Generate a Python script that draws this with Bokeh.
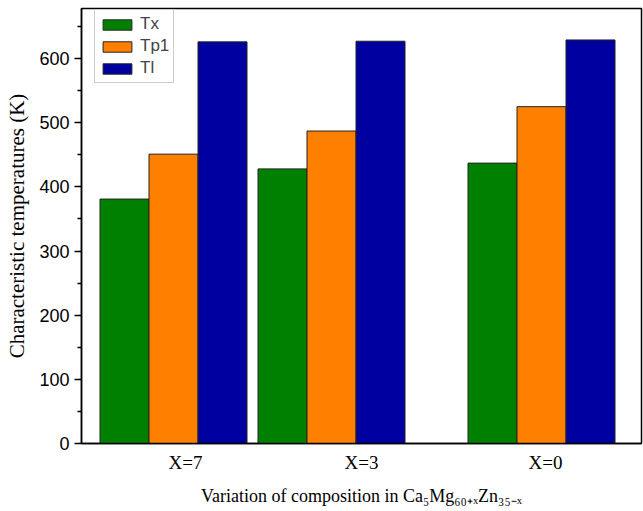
from bokeh.plotting import figure
from bokeh.models import Range1d, Legend, LegendItem, FixedTicker, ColumnDataSource
from bokeh.embed import file_html
from bokeh.resources import INLINE

# ---- data ----
categories = ["X=7", "X=3", "X=0"]
series_names = ["Tx", "Tp1", "Tl"]
tx = [381, 428, 437]
tp1 = [451, 487, 525]
tl = [626, 627, 629]
y_ticks = [0, 100, 200, 300, 400, 500, 600]

# ---- layout constants (frame units) ----
group_centers = [92, 250, 460]
label_positions = [104, 280, 464]
bar_w = 49
colors = ["#008000", "#FF8000", "#0000A0"]

p = figure(width=643, height=511, output_backend="svg", toolbar_location=None,
           x_range=Range1d(0, 560), y_range=Range1d(0, 678),
           min_border_left=81, min_border_right=2, min_border_top=8,
           min_border_bottom=68)
p.xgrid.visible = False
p.ygrid.visible = False
p.outline_line_color = "black"
p.outline_line_width = 1.5
p.background_fill_color = "white"
p.border_fill_color = "white"

items = []
for i, (name, vals) in enumerate(zip(series_names, [tx, tp1, tl])):
    xs = [c + (i - 1) * bar_w for c in group_centers]
    src = ColumnDataSource(dict(x=xs, top=vals))
    r = p.vbar(x="x", top="top", bottom=0, width=bar_w, source=src,
               fill_color=colors[i], line_color="#222222", line_width=1)
    items.append(LegendItem(label=name, renderers=[r]))

legend = Legend(items=items, location=(13, 360), orientation="vertical",
                label_text_font="Liberation Sans", label_text_font_size="17px",
                glyph_width=36, glyph_height=13, label_height=16,
                spacing=2, padding=4, margin=0, label_standoff=5,
                border_line_color="#999999", border_line_width=1.5,
                background_fill_alpha=1)
p.add_layout(legend)

# x axis
xa = p.xaxis[0]
xa.ticker = FixedTicker(ticks=label_positions)
xa.major_label_overrides = {pos: lab for pos, lab in zip(label_positions, categories)}
xa.major_tick_line_color = None
xa.major_tick_out = 0
xa.major_tick_in = 0
xa.minor_tick_line_color = None
xa.minor_tick_out = 0
xa.axis_line_color = "black"
xa.axis_line_width = 1.5
xa.major_label_text_font = "Liberation Serif"
xa.major_label_text_font_size = "19px"
xa.major_label_text_color = "black"
xa.major_label_standoff = 8
xa.axis_label = "Variation of composition in Ca\u2085Mg\u2086\u2080\u208A\u2093Zn\u2083\u2085\u208B\u2093"
xa.axis_label_text_font = "Liberation Serif"
xa.axis_label_text_font_size = "18px"
xa.axis_label_text_font_style = "normal"
xa.axis_label_text_color = "black"
xa.axis_label_standoff = 10

# y axis
ya = p.yaxis[0]
ya.ticker = FixedTicker(ticks=y_ticks, minor_ticks=[50, 150, 250, 350, 450, 550, 650])
ya.major_tick_out = 7
ya.major_tick_in = 0
ya.minor_tick_out = 4
ya.minor_tick_in = 0
ya.axis_line_color = "black"
ya.axis_line_width = 1.5
ya.major_tick_line_width = 1.5
ya.minor_tick_line_width = 1.5
ya.major_label_text_font = "Liberation Sans"
ya.major_label_text_font_size = "18px"
ya.major_label_text_color = "black"
ya.major_label_standoff = 5
ya.axis_label = "Characteristic temperatures (K)"
ya.axis_label_text_font = "Liberation Serif"
ya.axis_label_text_font_size = "21px"
ya.axis_label_text_font_style = "normal"
ya.axis_label_text_color = "black"
ya.axis_label_standoff = 7

open("out.html", "w").write(file_html(p, INLINE))
